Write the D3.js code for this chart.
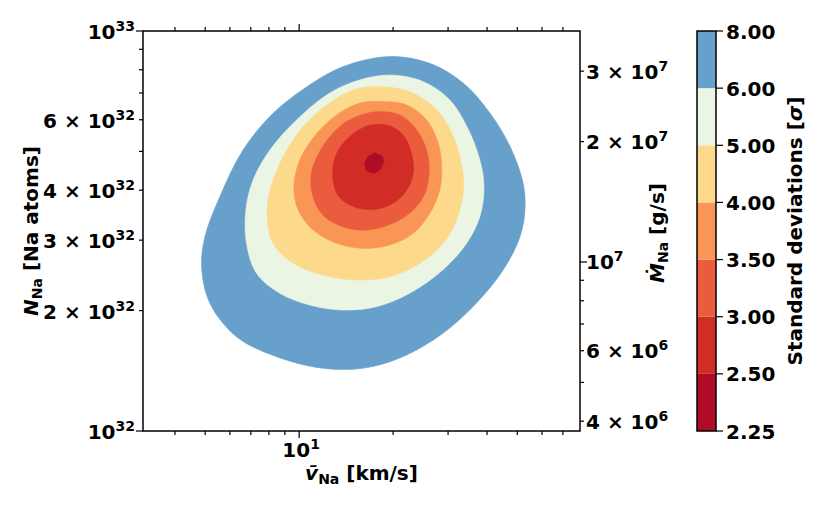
<!DOCTYPE html>
<html>
<head>
<meta charset="utf-8">
<script src="https://cdn.jsdelivr.net/npm/d3@7"></script>
<style>
    body { margin: 0; background: #fff; }
    text { font-family: "DejaVu Sans"; font-weight: bold; fill: #000; }
</style>
</head>
<body>
<div id="chart"></div>
<script>
    //contour levels (sigma) and fill colours, innermost first
    var levels = [2.25, 2.5, 3, 3.5, 4, 5, 6, 8];
    var levelColors = ['#ae0c27', '#d22c27', '#eb5b3d', '#f99555', '#fdd98b', '#eaf5e4', '#67a0ca'];

    //contour boundaries: [v (km/s), N (atoms)]
    var sigma8 = [[19.5, 8.63e32], [26.2, 8.30e32], [33.6, 7.40e32], [40.9, 6.23e32], [47.4, 5.14e32],
        [52.2, 4.16e32], [52.9, 3.57e32], [51.0, 3.06e32], [45.1, 2.53e32], [37.0, 2.09e32],
        [28.9, 1.755e32], [21.5, 1.534e32], [16.0, 1.435e32], [11.9, 1.435e32], [8.46, 1.534e32],
        [6.30, 1.721e32], [5.17, 2.09e32], [4.87, 2.576e32], [4.99, 3.06e32], [5.57, 3.853e32],
        [6.61, 5.04e32], [8.25, 6.23e32], [10.6, 7.26e32], [13.8, 8.14e32]];
    var sigma6 = [[19.5, 7.76e32], [25.0, 7.47e32], [30.4, 6.72e32], [35.3, 5.55e32], [38.4, 4.58e32],
        [39.1, 4.00e32], [37.9, 3.43e32], [34.4, 2.946e32], [28.9, 2.53e32], [22.6, 2.21e32],
        [17.7, 2.046e32], [13.8, 2.006e32], [10.8, 2.065e32], [8.67, 2.21e32], [7.30, 2.48e32],
        [6.78, 2.946e32], [6.75, 3.57e32], [7.12, 4.24e32], [8.06, 5.04e32], [9.81, 5.99e32],
        [12.5, 6.99e32], [15.6, 7.54e32]];
    var sigma5 = [[17.7, 7.26e32], [22.6, 7.05e32], [27.6, 6.35e32], [31.2, 5.44e32], [33.2, 4.58e32],
        [33.6, 4.00e32], [31.9, 3.37e32], [28.9, 2.946e32], [24.4, 2.626e32], [19.5, 2.43e32],
        [15.3, 2.386e32], [11.9, 2.455e32], [9.57, 2.626e32], [8.25, 2.946e32], [7.90, 3.43e32],
        [8.06, 4.00e32], [8.89, 4.85e32], [10.3, 5.77e32], [12.5, 6.60e32], [14.9, 7.12e32]];
    var sigma4 = [[18.1, 6.66e32], [22.1, 6.53e32], [25.6, 5.99e32], [27.9, 5.24e32], [28.6, 4.58e32],
        [28.2, 4.00e32], [26.2, 3.50e32], [23.2, 3.12e32], [19.5, 2.917e32], [16.0, 2.862e32],
        [13.2, 2.946e32], [11.1, 3.18e32], [9.93, 3.57e32], [9.62, 4.08e32], [10.05, 4.76e32],
        [11.4, 5.55e32], [13.2, 6.17e32], [15.6, 6.60e32]];
    var sigma35 = [[17.7, 6.28e32], [21.0, 6.17e32], [23.8, 5.66e32], [25.6, 5.04e32], [26.1, 4.49e32],
        [25.3, 3.93e32], [23.2, 3.57e32], [20.0, 3.31e32], [16.4, 3.18e32], [13.8, 3.24e32],
        [11.9, 3.47e32], [11.0, 3.93e32], [11.0, 4.49e32], [11.9, 5.14e32], [13.5, 5.77e32],
        [15.3, 6.11e32]];
    var sigma3 = [[16.9, 5.82e32], [19.5, 5.79e32], [21.5, 5.50e32], [22.9, 4.95e32], [23.2, 4.41e32],
        [22.1, 4.00e32], [20.0, 3.71e32], [17.3, 3.58e32], [14.9, 3.64e32], [13.3, 3.89e32],
        [12.8, 4.41e32], [13.2, 4.95e32], [14.5, 5.44e32]];
    var sigma25 = [[17.5, 4.96e32], [18.4, 4.87e32], [18.7, 4.71e32], [18.1, 4.49e32], [17.4, 4.41e32],
        [16.4, 4.47e32], [16.2, 4.67e32], [16.6, 4.85e32]];

    //ticks
    var vMajorTicks = [10];
    var vMinorTicks = [4, 5, 6, 7, 8, 9, 20, 30, 40, 50, 60, 70];
    var vTickLabels = [[10, '', '1']];
    var nMajorTicks = [1e32, 1e33];
    var nMinorTicks = [2e32, 3e32, 4e32, 5e32, 6e32, 7e32, 8e32, 9e32];
    var nTickLabels = [[1e32, '', '32'], [2e32, '2', '32'], [3e32, '3', '32'], [4e32, '4', '32'],
        [6e32, '6', '32'], [1e33, '', '33']];
    var mMajorTicks = [1e7];
    var mMinorTicks = [4e6, 5e6, 6e6, 7e6, 8e6, 9e6, 2e7, 3e7];
    var mTickLabels = [[4e6, '4', '6'], [6e6, '6', '6'], [1e7, '', '7'], [2e7, '2', '7'], [3e7, '3', '7']];

    //layout
    var W = 830, H = 509;
    var pLeft = 143, pRight = 580, pTop = 31, pBottom = 431;
    var cbLeft = 697, cbRight = 716;
    var fs = '20px', fsSmall = '14px';

    var svg = d3.select('#chart').append('svg')
        .attr('width', W)
        .attr('height', H);

    var x = d3.scaleLog().domain([3.16, 79.4]).range([pLeft, pRight]);
    var y = d3.scaleLog().domain([1e32, 1e33]).range([pBottom, pTop]);
    var yM = d3.scaleLog().domain([3.78e6, 3.78e7]).range([pBottom, pTop]);
    var yC = d3.scalePoint().domain(levels).range([pBottom, pTop]);

    //filled contours, outer first
    var contours = [
        {pts: sigma8, color: levelColors[6]},
        {pts: sigma6, color: levelColors[5]},
        {pts: sigma5, color: levelColors[4]},
        {pts: sigma4, color: levelColors[3]},
        {pts: sigma35, color: levelColors[2]},
        {pts: sigma3, color: levelColors[1]},
        {pts: sigma25, color: levelColors[0], linear: true}
    ];

    var smooth = d3.line()
        .x(function(d) { return x(d[0]); })
        .y(function(d) { return y(d[1]); })
        .curve(d3.curveCatmullRomClosed.alpha(0.5));
    var straight = d3.line()
        .x(function(d) { return x(d[0]); })
        .y(function(d) { return y(d[1]); })
        .curve(d3.curveLinearClosed);

    svg.append('g').selectAll('path')
        .data(contours)
        .enter().append('path')
        .attr('d', function(d) { return d.linear ? straight(d.pts) : smooth(d.pts); })
        .attr('fill', function(d) { return d.color; })
        .attr('stroke', function(d) { return d.color; })
        .attr('stroke-width', 0.6);

    //frame
    svg.append('rect')
        .attr('x', pLeft).attr('y', pTop)
        .attr('width', pRight - pLeft).attr('height', pBottom - pTop)
        .attr('fill', 'none').attr('stroke', '#000').attr('stroke-width', 1.5);

    var ticks = svg.append('g').attr('stroke', '#000').attr('stroke-width', 1.2);

    function hTicks(vals, len) {
        vals.forEach(function(v) {
            ticks.append('line').attr('x1', x(v)).attr('x2', x(v)).attr('y1', pBottom).attr('y2', pBottom + len);
            ticks.append('line').attr('x1', x(v)).attr('x2', x(v)).attr('y1', pTop).attr('y2', pTop - len);
        });
    }
    hTicks(vMajorTicks, 7);
    hTicks(vMinorTicks, 4);

    nMajorTicks.forEach(function(v) {
        ticks.append('line').attr('x1', pLeft - 7).attr('x2', pLeft).attr('y1', y(v)).attr('y2', y(v));
    });
    nMinorTicks.forEach(function(v) {
        ticks.append('line').attr('x1', pLeft - 4).attr('x2', pLeft).attr('y1', y(v)).attr('y2', y(v));
    });
    mMajorTicks.forEach(function(v) {
        ticks.append('line').attr('x1', pRight).attr('x2', pRight + 7).attr('y1', yM(v)).attr('y2', yM(v));
    });
    mMinorTicks.forEach(function(v) {
        ticks.append('line').attr('x1', pRight).attr('x2', pRight + 4).attr('y1', yM(v)).attr('y2', yM(v));
    });

    //power-of-ten label: "m × 10^e"
    function powLabel(g, px, py, anchor, mant, exp) {
        var t = g.append('text')
            .attr('x', px).attr('y', py)
            .attr('text-anchor', anchor)
            .style('font-size', fs);
        t.append('tspan').text(mant ? mant + ' \u00d7 10' : '10');
        t.append('tspan').attr('dy', -8).style('font-size', fsSmall).text(exp);
        return t;
    }

    var labels = svg.append('g');
    nTickLabels.forEach(function(d) {
        powLabel(labels, pLeft - 8, y(d[0]) + 8, 'end', d[1], d[2]);
    });
    mTickLabels.forEach(function(d) {
        powLabel(labels, pRight + 6, yM(d[0]) + 7.5, 'start', d[1], d[2]);
    });
    vTickLabels.forEach(function(d) {
        powLabel(labels, x(d[0]) + 2, pBottom + 26, 'middle', d[1], d[2]);
    });

    //axis titles
    var xt = svg.append('text')
        .attr('x', (pLeft + pRight) / 2).attr('y', 480)
        .attr('text-anchor', 'middle').style('font-size', fs);
    xt.append('tspan').style('font-style', 'italic').text('v\u0304');
    xt.append('tspan').attr('dy', 4).style('font-size', fsSmall).text('Na');
    xt.append('tspan').attr('dy', -4).text(' [km/s]');

    var yt = svg.append('text')
        .attr('transform', 'translate(38,' + ((pTop + pBottom) / 2) + ') rotate(-90)')
        .attr('text-anchor', 'middle').style('font-size', fs);
    yt.append('tspan').style('font-style', 'italic').text('N');
    yt.append('tspan').attr('dy', 4).style('font-size', fsSmall).text('Na');
    yt.append('tspan').attr('dy', -4).text(' [Na atoms]');

    var mt = svg.append('text')
        .attr('transform', 'translate(664,' + ((pTop + pBottom) / 2 + 2) + ') rotate(-90)')
        .attr('text-anchor', 'middle').style('font-size', fs);
    mt.append('tspan').style('font-style', 'italic').text('\u1e40');
    mt.append('tspan').attr('dy', 4).style('font-size', fsSmall).text('Na');
    mt.append('tspan').attr('dy', -4).text(' [g/s]');

    //colourbar
    var cb = svg.append('g');
    cb.selectAll('rect.bin')
        .data(levels.slice(0, -1))
        .enter().append('rect')
        .attr('class', 'bin')
        .attr('x', cbLeft)
        .attr('width', cbRight - cbLeft)
        .attr('y', function(d, i) { return yC(levels[i + 1]); })
        .attr('height', function(d, i) { return yC(d) - yC(levels[i + 1]); })
        .attr('fill', function(d, i) { return levelColors[i]; });
    cb.append('rect')
        .attr('x', cbLeft).attr('y', pTop)
        .attr('width', cbRight - cbLeft).attr('height', pBottom - pTop)
        .attr('fill', 'none').attr('stroke', '#000').attr('stroke-width', 1.5);
    cb.selectAll('line.tick')
        .data(levels)
        .enter().append('line')
        .attr('class', 'tick')
        .attr('x1', cbRight).attr('x2', cbRight + 7)
        .attr('y1', function(d) { return yC(d); })
        .attr('y2', function(d) { return yC(d); })
        .attr('stroke', '#000').attr('stroke-width', 1.2);
    cb.selectAll('text.tl')
        .data(levels)
        .enter().append('text')
        .attr('class', 'tl')
        .attr('x', cbRight + 10)
        .attr('y', function(d) { return yC(d) + 7.5; })
        .style('font-size', fs)
        .text(d3.format('.2f'));

    var ct = svg.append('text')
        .attr('transform', 'translate(802,' + ((pTop + pBottom) / 2) + ') rotate(-90)')
        .attr('text-anchor', 'middle').style('font-size', fs);
    ct.append('tspan').text('Standard deviations [');
    ct.append('tspan').style('font-style', 'italic').text('\u03c3');
    ct.append('tspan').text(']');
</script>
</body>
</html>
